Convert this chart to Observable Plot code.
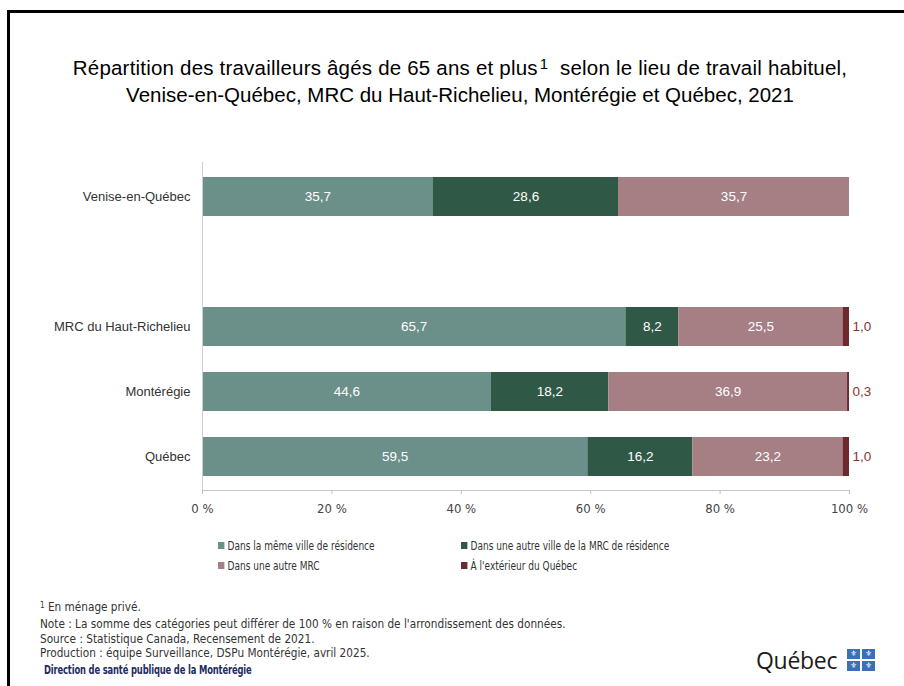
<!DOCTYPE html>
<html><head><meta charset="utf-8">
<script src="https://cdn.jsdelivr.net/npm/d3@7"></script>
<script src="https://cdn.jsdelivr.net/npm/@observablehq/plot@0.6"></script>
<style>
  html, body { margin: 0; padding: 0; background: #fff; }
  #page { position: relative; width: 904px; height: 686px; overflow: hidden; font-family: "Liberation Sans Narrow", "DejaVu Sans Condensed", sans-serif; color: #333; }
  .border { position: absolute; left: 7px; top: 10px; width: 910px; height: 700px; border-top: 3px solid #000; border-left: 3px solid #000; }
  .title { position: absolute; left: 0; width: 920px; top: 55px; text-align: center; font-family: "Liberation Sans", Arial, sans-serif; font-size: 20.5px; line-height: 25px; color: #000; }
  .title .l1 { letter-spacing: 0.2px; }
  .title sup { font-size: 15px; vertical-align: 0; position: relative; top: -6px; margin-left: 2px; }
  #chart { position: absolute; left: 0; top: 0; }
  .legend { position: absolute; left: 0; top: 0; font-size: 12.5px; color: #333; }
  .legend .item { position: absolute; white-space: nowrap; display: flex; align-items: center; transform: scaleX(0.8); transform-origin: left center; }
  .legend .sw { width: 8px; height: 7px; margin-right: 4px; display: inline-block; }
  .notes { position: absolute; left: 40px; top: 600px; font-size: 11.7px; line-height: 14.8px; color: #333; }
  .notes sup { font-size: 8px; vertical-align: 0; position: relative; top: -3px; }
  .dsp { position: absolute; left: 44px; top: 663px; font-size: 11.8px; color: #1e2b63; font-weight: bold; letter-spacing: -0.2px; transform: scaleX(0.79); transform-origin: left center; white-space: nowrap; }
  .logo { position: absolute; left: 756px; top: 644px; display: flex; align-items: center; }
  .logo .word { font-family: "Open Sans", "DejaVu Sans", sans-serif; font-size: 23px; color: #1b1b1b; letter-spacing: -0.3px; }
  .logo .flag { display: grid; grid-template-columns: 13px 13px; grid-template-rows: 10px 10px; gap: 2px; margin-left: 10px; }
  .logo .flag span { background: #3a70b8; color: #fff; font-family: "DejaVu Sans", sans-serif; font-size: 8px; line-height: 10px; text-align: center; }
</style>
</head><body>
<div id="page">
  <div class="border"></div>
  <div class="title"><span class="l1">Répartition des travailleurs âgés de 65 ans et plus<sup>1</sup>&nbsp; selon le lieu de travail habituel,</span><br>Venise-en-Québec, MRC du Haut-Richelieu, Montérégie et Québec, 2021</div>
  <div id="chart"></div>
  <div class="legend" id="legend"></div>
  <div class="notes">
    <div><sup>1</sup> En ménage privé.</div>
    <div>Note : La somme des catégories peut différer de 100 % en raison de l'arrondissement des données.</div>
    <div>Source : Statistique Canada, Recensement de 2021.</div>
    <div>Production : équipe Surveillance, DSPu Montérégie, avril 2025.</div>
  </div>
  <div class="dsp">Direction de santé publique de la Montérégie</div>
  <div class="logo"><span class="word">Québec</span><span class="flag"><span>⚜</span><span>⚜</span><span>⚜</span><span>⚜</span></span></div>
</div>
<script>
// ---- Data ----
const categories = ["Venise-en-Québec", "MRC du Haut-Richelieu", "Montérégie", "Québec"];
const series = [
  "Dans la même ville de résidence",
  "Dans une autre ville de la MRC de résidence",
  "Dans une autre MRC",
  "À l'extérieur du Québec"
];
const sameCity = [35.7, 65.7, 44.6, 59.5];
const otherCityMrc = [28.6, 8.2, 18.2, 16.2];
const otherMrc = [35.7, 25.5, 36.9, 23.2];
const outsideQc = [null, 1.0, 0.3, 1.0];
const seriesColors = ["#6b8f89", "#2f5946", "#a67f85", "#6d2a2c"];
const xTicks = [0, 0.2, 0.4, 0.6, 0.8, 1];
const xTickLabels = ["0 %", "20 %", "40 %", "60 %", "80 %", "100 %"];
const gap = "__gap__";

const seriesValues = [sameCity, otherCityMrc, otherMrc, outsideQc];
const rows = [];
categories.forEach((cat, i) => {
  series.forEach((s, j) => {
    const v = seriesValues[j][i];
    if (v != null) rows.push({cat, series: s, value: v});
  });
});
const fmt = v => v.toFixed(1).replace(".", ",");
const outside = series[3];
const yDomain = [categories[0], gap, ...categories.slice(1)];

const chart = Plot.plot({
  width: 904,
  height: 520,
  marginLeft: 202,
  marginRight: 55,
  marginTop: 162,
  marginBottom: 30,
  style: {fontFamily: "'Liberation Sans', Arial, sans-serif", fontSize: "13px", background: "transparent", color: "#333"},
  x: {domain: [0, 1], axis: null},
  y: {domain: yDomain, paddingInner: 0.4, paddingOuter: 0.2, axis: null},
  color: {domain: series, range: seriesColors},
  marks: [
    Plot.barX(rows, Plot.stackX({x: "value", y: "cat", fill: "series", order: series, offset: "normalize"})),
    Plot.text(rows, Plot.stackX({
      x: "value", y: "cat", z: "series", order: series, offset: "normalize",
      text: d => d.series === outside ? null : fmt(d.value),
      fill: "white", fontSize: 13.5
    })),
    Plot.text(rows, Plot.stackX2({
      x: "value", y: "cat", z: "series", order: series, offset: "normalize",
      text: d => d.series === outside ? fmt(d.value) : null,
      fill: "#86363b", fontSize: 13.5, textAnchor: "start", dx: 3
    })),
    Plot.ruleX([0], {stroke: "#cfcfcf"}),
    Plot.frame({anchor: "bottom", stroke: "#c8c8c8"}),
    Plot.axisX({
      ticks: xTicks,
      tickFormat: d => xTickLabels[xTicks.indexOf(d)],
      tickSize: 4, tickPadding: 9, stroke: "#c0c0c0", fill: "#444",
      fontFamily: "'Liberation Sans Narrow', 'DejaVu Sans Condensed', sans-serif", fontSize: 13, label: null
    }),
    Plot.axisY({
      tickSize: 0, tickPadding: 12, fill: "#333", fontSize: 13,
      tickFormat: d => d === gap ? "" : d, label: null
    })
  ]
});
document.getElementById("chart").appendChild(chart);

// legend
const legendPos = [[218, 538], [461, 538], [218, 558], [461, 558]];
const legend = document.getElementById("legend");
series.forEach((s, i) => {
  const item = document.createElement("div");
  item.className = "item";
  item.style.left = legendPos[i][0] + "px";
  item.style.top = legendPos[i][1] + "px";
  item.innerHTML = `<span class="sw" style="background:${seriesColors[i]}"></span>${s}`;
  legend.appendChild(item);
});
</script>
</body></html>
